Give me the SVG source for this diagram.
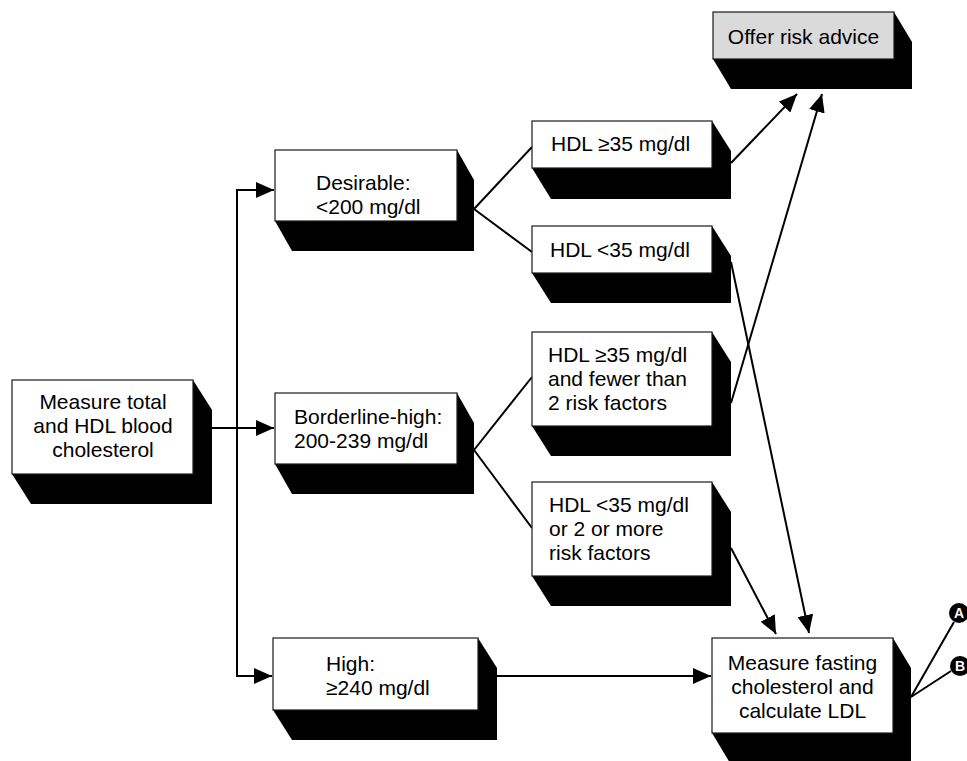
<svg xmlns="http://www.w3.org/2000/svg" width="967" height="761" viewBox="0 0 967 761">
<style>
  .box { fill: #ffffff; stroke: #1a1a1a; stroke-width: 1.2; }
  .gray { fill: #dadada; }
  .sh { fill: #000000; stroke: none; }
  .t { font-family: "Liberation Sans", Arial, sans-serif; font-size: 21px; fill: #000000; }
  .c { text-anchor: middle; }
  .ln { fill: none; stroke: #000000; stroke-width: 2; }
  .arr { marker-end: url(#ah); }
  .circ { fill: #000000; }
  .lt { font-family: "Liberation Sans", Arial, sans-serif; font-size: 14px; font-weight: bold; fill: #ffffff; text-anchor: middle; }
</style>
<defs>
  <marker id="ah" viewBox="0 0 18 16" refX="18" refY="8" markerWidth="18" markerHeight="16" markerUnits="userSpaceOnUse" orient="auto">
    <path d="M0,0 L18,8 L0,16 z" fill="#000000"/>
  </marker>
</defs>
<rect width="967" height="761" fill="#ffffff"/>

<g id="connectors">
  <line class="ln" x1="237" y1="190" x2="237" y2="676"/>
  <line class="ln arr" x1="236" y1="190" x2="274" y2="190"/>
  <line class="ln arr" x1="212" y1="428" x2="274" y2="428"/>
  <line class="ln arr" x1="236" y1="676" x2="272" y2="676"/>
  <line class="ln" x1="474" y1="209" x2="532" y2="147"/>
  <line class="ln" x1="474" y1="209" x2="532" y2="252"/>
  <line class="ln" x1="474" y1="450" x2="532" y2="377"/>
  <line class="ln" x1="474" y1="450" x2="532" y2="528"/>
  <line class="ln arr" x1="731" y1="163" x2="797" y2="94"/>
  <line class="ln arr" x1="731" y1="403" x2="822" y2="94"/>
  <line class="ln arr" x1="731" y1="262" x2="809" y2="633"/>
  <line class="ln arr" x1="731" y1="548" x2="776" y2="634"/>
  <line class="ln arr" x1="497" y1="676" x2="711" y2="676"/>
  <line class="ln" x1="911" y1="697" x2="954" y2="622"/>
  <line class="ln" x1="911" y1="697" x2="951" y2="671"/>
</g>

<g id="measure-total">
  <polygon class="sh" points="193,380 212,410 212,504 31,504 12,474"/>
  <rect class="box" x="12" y="380" width="181" height="94"/>
  <text class="t c" x="103" y="409">Measure total</text>
  <text class="t c" x="103" y="433">and HDL blood</text>
  <text class="t c" x="103" y="457">cholesterol</text>
</g>

<g id="desirable">
  <polygon class="sh" points="457,150 474,180 474,251 292,251 275,221"/>
  <rect class="box" x="275" y="150" width="182" height="71"/>
  <text class="t" x="316" y="190">Desirable:</text>
  <text class="t" x="316" y="214">&lt;200 mg/dl</text>
</g>

<g id="borderline">
  <polygon class="sh" points="457,393 474,423 474,494 292,494 275,464"/>
  <rect class="box" x="275" y="393" width="182" height="71"/>
  <text class="t" x="294" y="424">Borderline-high:</text>
  <text class="t" x="294" y="448">200-239 mg/dl</text>
</g>

<g id="high">
  <polygon class="sh" points="478,638 497,668 497,740 292,740 273,710"/>
  <rect class="box" x="273" y="638" width="205" height="72"/>
  <text class="t" x="326" y="671">High:</text>
  <text class="t" x="326" y="695">≥240 mg/dl</text>
</g>

<g id="hdl-high-desirable">
  <polygon class="sh" points="712,121 731,151 731,199 551,199 532,168"/>
  <rect class="box" x="532" y="121" width="180" height="47"/>
  <text class="t" x="551" y="151">HDL ≥35 mg/dl</text>
</g>

<g id="hdl-low-desirable">
  <polygon class="sh" points="712,226 731,256 731,303 551,303 532,273"/>
  <rect class="box" x="532" y="226" width="180" height="47"/>
  <text class="t" x="550" y="257">HDL &lt;35 mg/dl</text>
</g>

<g id="hdl-high-borderline">
  <polygon class="sh" points="712,332 731,362 731,456 551,456 532,426"/>
  <rect class="box" x="532" y="332" width="180" height="94"/>
  <text class="t" x="548" y="362">HDL ≥35 mg/dl</text>
  <text class="t" x="548" y="386">and fewer than</text>
  <text class="t" x="548" y="410">2 risk factors</text>
</g>

<g id="hdl-low-borderline">
  <polygon class="sh" points="712,482 731,512 731,606 551,606 532,576"/>
  <rect class="box" x="532" y="482" width="180" height="94"/>
  <text class="t" x="549" y="512">HDL &lt;35 mg/dl</text>
  <text class="t" x="549" y="536">or 2 or more</text>
  <text class="t" x="549" y="560">risk factors</text>
</g>

<g id="offer-risk-advice">
  <polygon class="sh" points="894,12 912,42 912,89 731,89 713,59"/>
  <rect class="box gray" x="713" y="12" width="181" height="47"/>
  <text class="t c" x="803.5" y="44">Offer risk advice</text>
</g>

<g id="measure-fasting">
  <polygon class="sh" points="893,638 911,668 911,763 730,763 712,733"/>
  <rect class="box" x="712" y="638" width="181" height="95"/>
  <text class="t c" x="802.5" y="670">Measure fasting</text>
  <text class="t c" x="802.5" y="694">cholesterol and</text>
  <text class="t c" x="802.5" y="718">calculate LDL</text>
</g>

<g id="label-a">
  <circle class="circ" cx="959" cy="613" r="10"/>
  <text class="lt" x="959" y="618">A</text>
</g>

<g id="label-b">
  <circle class="circ" cx="960" cy="666" r="10"/>
  <text class="lt" x="960" y="671">B</text>
</g>
</svg>
